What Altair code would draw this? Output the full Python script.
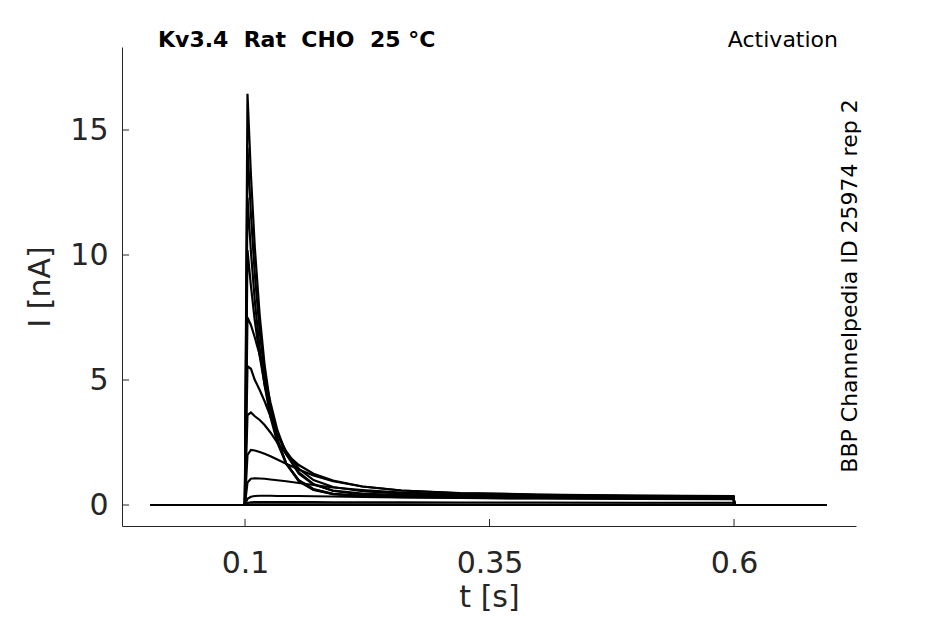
import altair as alt
import pandas as pd

# ---- data ----
t_s = [0.003, 0.0998, 0.1025, 0.106, 0.110, 0.115, 0.120, 0.126, 0.133, 0.142,
       0.155, 0.170, 0.190, 0.220, 0.260, 0.320, 0.400, 0.500, 0.5995, 0.6005, 0.695]

trace_A = [0, 0, 16.45, 13.22, 10.30, 7.59, 5.60, 3.94, 2.66, 1.66, 0.94, 0.60, 0.43, 0.36, 0.33, 0.31, 0.29, 0.27, 0.26, 0, 0]
trace_B = [0, 0, 14.30, 11.65, 9.23, 6.93, 5.22, 3.76, 2.60, 1.67, 0.97, 0.62, 0.44, 0.35, 0.31, 0.29, 0.27, 0.25, 0.24, 0, 0]
trace_C = [0, 0, 12.30, 10.15, 8.16, 6.24, 4.79, 3.52, 2.49, 1.65, 0.99, 0.64, 0.45, 0.37, 0.34, 0.31, 0.29, 0.28, 0.27, 0, 0]
trace_D = [0, 0, 10.20, 8.77, 7.37, 5.96, 4.83, 3.78, 2.86, 2.03, 1.31, 0.84, 0.56, 0.42, 0.36, 0.33, 0.32, 0.31, 0.30, 0, 0]
trace_E = [0, 0, 7.50, 7.20, 6.70, 6.00, 5.20, 4.10, 3.00, 2.05, 1.25, 0.82, 0.58, 0.46, 0.40, 0.36, 0.34, 0.32, 0.31, 0, 0]
trace_F = [0, 0, 5.55, 5.45, 5.00, 4.60, 4.15, 3.55, 2.85, 2.15, 1.45, 1.00, 0.72, 0.55, 0.45, 0.40, 0.36, 0.33, 0.31, 0, 0]
trace_G = [0, 0, 3.60, 3.70, 3.55, 3.40, 3.20, 2.90, 2.50, 2.05, 1.60, 1.25, 0.98, 0.74, 0.58, 0.47, 0.41, 0.37, 0.35, 0, 0]
trace_H = [0, 0, 2.00, 2.20, 2.18, 2.12, 2.05, 1.95, 1.82, 1.65, 1.42, 1.18, 0.95, 0.74, 0.58, 0.48, 0.42, 0.38, 0.36, 0, 0]
trace_I = [0, 0, 0.90, 1.05, 1.07, 1.06, 1.05, 1.02, 0.99, 0.95, 0.88, 0.80, 0.70, 0.60, 0.50, 0.43, 0.38, 0.34, 0.32, 0, 0]
trace_J = [0, 0, 0.25, 0.33, 0.36, 0.37, 0.37, 0.37, 0.36, 0.36, 0.36, 0.35, 0.34, 0.32, 0.30, 0.28, 0.26, 0.24, 0.23, 0, 0]
trace_K = [0, 0, 0.08, 0.11, 0.12, 0.12, 0.12, 0.12, 0.12, 0.12, 0.12, 0.12, 0.11, 0.11, 0.11, 0.10, 0.10, 0.09, 0.09, 0, 0]
trace_L = [0, 0, 0.02, 0.03, 0.03, 0.03, 0.03, 0.03, 0.03, 0.03, 0.03, 0.03, 0.03, 0.03, 0.03, 0.02, 0.02, 0.02, 0.02, 0, 0]
trace_M = [0, 0, 0.00, 0.00, 0.00, 0.00, 0.00, 0.00, 0.00, 0.00, 0.00, 0.00, 0.00, 0.00, 0.00, 0.00, 0.00, 0.00, 0.00, 0, 0]

traces = {"A": trace_A, "B": trace_B, "C": trace_C, "D": trace_D, "E": trace_E,
          "F": trace_F, "G": trace_G, "H": trace_H, "I": trace_I, "J": trace_J,
          "K": trace_K, "L": trace_L, "M": trace_M}

x_ticks = [0.1, 0.35, 0.6]
y_ticks = [0, 5, 10, 15]

NB = "\u00a0"
title_text = f"Kv3.4{NB}{NB}Rat{NB}{NB}CHO{NB}{NB}25{NB}°C"
protocol_text = "Activation"
source_text = "BBP Channelpedia ID 25974 rep 2"

rows = []
for name, vals in traces.items():
    for t, v in zip(t_s, vals):
        rows.append({"trace": name, "t": t, "I": v})
df = pd.DataFrame(rows)

# ---- chart ----
W, H = 734, 479
AX = "#262626"
FONT = "DejaVu Sans"

xscale = alt.Scale(domain=[-0.0258, 0.7247], nice=False, zero=False)
yscale = alt.Scale(domain=[-0.84, 18.32], nice=False, zero=False)
xaxis = alt.Axis(values=x_ticks, format=".3~g", title="t [s]", labelPadding=22, titlePadding=4)
yaxis = alt.Axis(values=y_ticks, format="d", title="I [nA]", labelPadding=14, titlePadding=14)

lines = alt.Chart(df).mark_line(color="black", strokeWidth=2.2).encode(
    x=alt.X("t:Q", scale=xscale, axis=xaxis),
    y=alt.Y("I:Q", scale=yscale, axis=yaxis),
    detail="trace:N",
)

xtick_rules = alt.Chart(pd.DataFrame({"t": x_ticks})).mark_rule(color=AX, strokeWidth=1).encode(
    x=alt.X("t:Q", scale=xscale, axis=xaxis),
    y=alt.value(H),
    y2=alt.value(H - 7),
)

ytick_rules = alt.Chart(pd.DataFrame({"I": y_ticks})).mark_rule(color=AX, strokeWidth=1).encode(
    y=alt.Y("I:Q", scale=yscale, axis=yaxis),
    x=alt.value(0),
    x2=alt.value(7),
)

title_mark = alt.Chart(pd.DataFrame({"s": [title_text]})).mark_text(
    font=FONT, fontSize=22, fontWeight="bold", color="black",
    align="left", baseline="alphabetic"
).encode(text="s:N", x=alt.value(36), y=alt.value(0))

protocol_mark = alt.Chart(pd.DataFrame({"s": [protocol_text]})).mark_text(
    font=FONT, fontSize=22, color="black", align="right", baseline="alphabetic"
).encode(text="s:N", x=alt.value(716), y=alt.value(0))

source_mark = alt.Chart(pd.DataFrame({"s": [source_text]})).mark_text(
    font=FONT, fontSize=22, color="black", align="center", baseline="alphabetic", angle=270
).encode(text="s:N", x=alt.value(735), y=alt.value(239))

chart = alt.layer(
    lines, xtick_rules, ytick_rules, title_mark, protocol_mark, source_mark
).properties(
    width=W, height=H,
    autosize=alt.AutoSizeParams(type="none"),
    padding={"left": 114, "top": 39, "right": 81, "bottom": 90},
).configure_view(
    stroke=None
).configure_axis(
    grid=False, ticks=False, domainColor=AX, domainWidth=1,
    labelFont=FONT, labelFontSize=30, labelColor=AX,
    titleFont=FONT, titleFontSize=30, titleFontWeight="normal", titleColor=AX,
)

chart.save("out.html", embed_options={"renderer": "svg", "actions": False})
